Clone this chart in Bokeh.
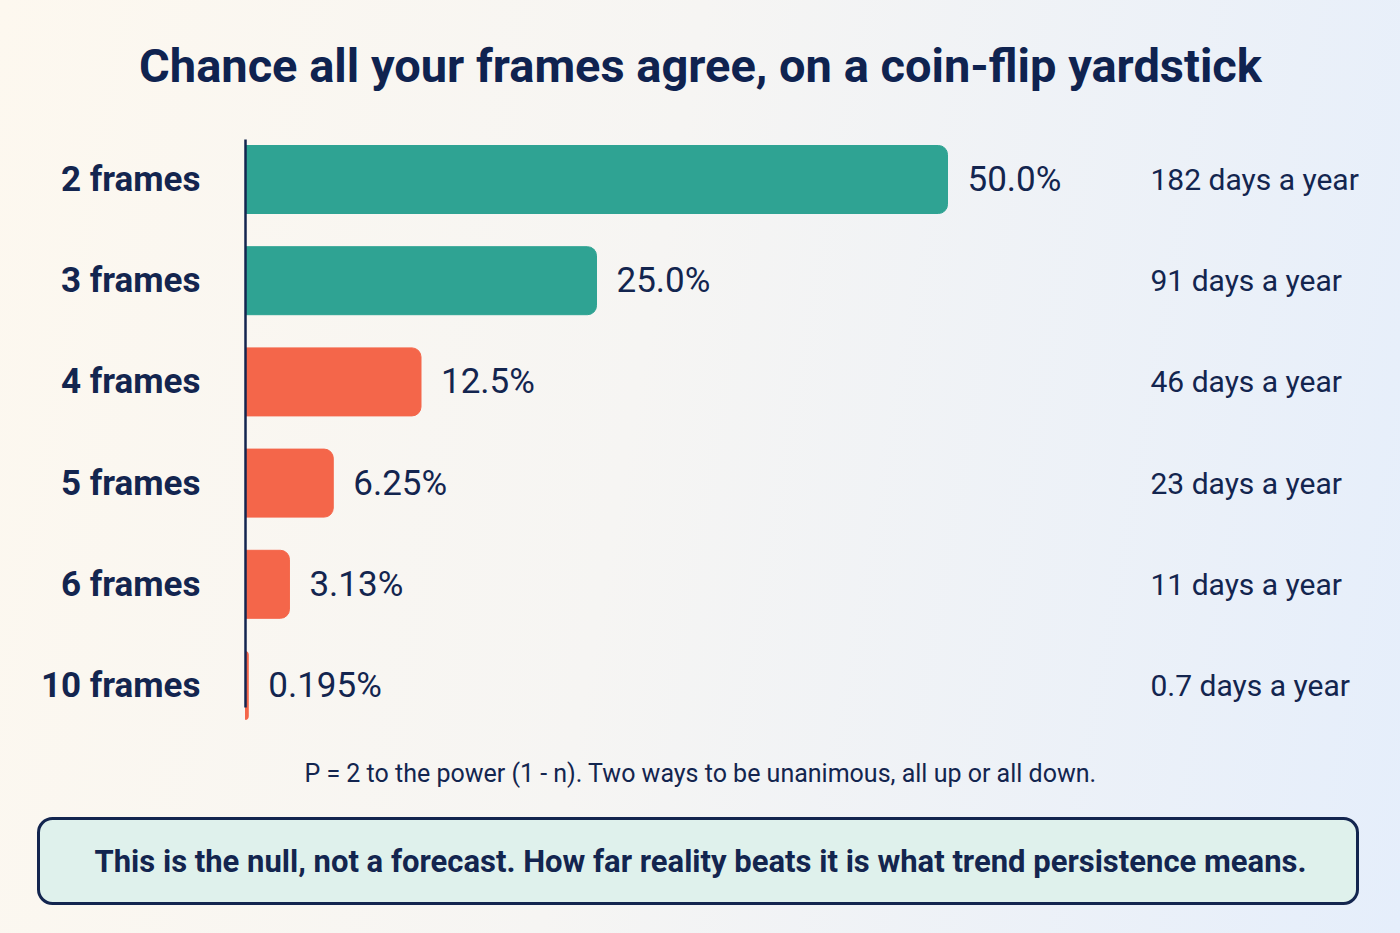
from bokeh.plotting import figure
from bokeh.models import ColumnDataSource, Range1d, BoxAnnotation
from bokeh.core.properties import value
from bokeh.embed import file_html
from bokeh.resources import INLINE

# data
frames = ["2 frames", "3 frames", "4 frames", "5 frames", "6 frames", "10 frames"]
pct = [50.0, 25.0, 12.5, 6.25, 3.13, 0.195]
pct_labels = ["50.0%", "25.0%", "12.5%", "6.25%", "3.13%", "0.195%"]
days_labels = ["182 days a year", "91 days a year", "46 days a year",
               "23 days a year", "11 days a year", "0.7 days a year"]

TITLE = "Chance all your frames agree, on a coin-flip yardstick"
NOTE = "P = 2 to the power (1 - n). Two ways to be unanimous, all up or all down."
BOXED = "This is the null, not a forecast. How far reality beats it is what trend persistence means."

NAVY = "#13254f"
TEAL = "#2fa393"
CORAL = "#f4664a"
FONT = "Roboto"

W, H = 1400, 933
# x in percent: 0 sits at canvas px 245, 50% at px 947
px_per_pct = 702 / 50
x0 = -245 / px_per_pct
x1 = (W - 245) / px_per_pct

# y in canvas pixels from the top
row_top, row_step = 179, 101.2
rows = [row_top + i * row_step for i in range(len(frames))]
colors = [TEAL if v >= 25 else CORAL for v in pct]

src = ColumnDataSource(data=dict(y=rows, pct=pct, frames=frames,
                                 pct_labels=pct_labels, days=days_labels,
                                 color=colors))

p = figure(width=W, height=H, x_range=Range1d(x0, x1), y_range=Range1d(H, 0),
           output_backend="svg", toolbar_location=None, min_border=0)
p.xaxis.visible = False
p.yaxis.visible = False
p.grid.visible = False
p.outline_line_color = None
p.background_fill_alpha = 0
p.border_fill_alpha = 0
p.styles = {"background": "linear-gradient(100deg, #fdf8ef 0%, #f6f5f3 45%, #e5eefb 100%)"}

p.hbar(y="y", left=0, right="pct", height=68, color="color", source=src,
       border_radius=(0, 9, 9, 0))

# axis spine
p.segment(x0=0, y0=rows[0] - 40, x1=0, y1=rows[-1] + 22, line_color=NAVY, line_width=2.5)

p.text(x=0, y="y", text="frames", source=src, x_offset=-45,
       text_align="right", text_baseline="middle", text_font=value(FONT),
       text_font_style="bold", text_font_size="35px", text_color=NAVY)
p.text(x="pct", y="y", text="pct_labels", source=src, x_offset=20,
       text_align="left", text_baseline="middle", text_font=value(FONT),
       text_font_size="35px", text_color=NAVY)
p.text(x=(1150 - 245) / px_per_pct, y="y", text="days", source=src,
       text_align="left", text_baseline="middle", text_font=value(FONT),
       text_font_size="30px", text_color=NAVY)

mid = (x0 + x1) / 2
p.text(x=[mid], y=[65], text=[TITLE], text_align="center", text_baseline="middle",
       text_font=value(FONT), text_font_style="bold", text_font_size="47px",
       text_color="#0f2350")
p.text(x=[mid], y=[773], text=[NOTE], text_align="center", text_baseline="middle",
       text_font=value(FONT), text_font_size="25px", text_color=NAVY)

box = BoxAnnotation(left=(38 - 245) / px_per_pct, right=(1357 - 245) / px_per_pct,
                    top=818, bottom=903, fill_color="#dff1ec", fill_alpha=1,
                    line_color=NAVY, line_alpha=1, line_width=3, border_radius=14,
                    level="underlay")
p.add_layout(box)
p.text(x=[mid], y=[861], text=[BOXED], text_align="center", text_baseline="middle",
       text_font=value(FONT), text_font_style="bold", text_font_size="31px",
       text_color=NAVY)

open("out.html", "w").write(file_html(p, INLINE))
